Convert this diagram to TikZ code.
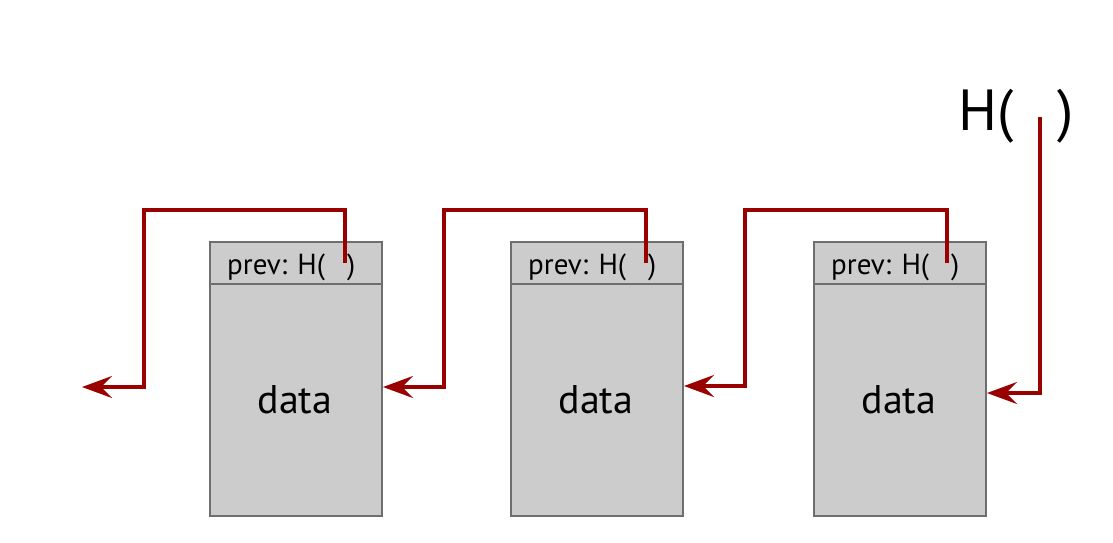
\documentclass[tikz,border=0pt]{standalone}
\usepackage{fontspec}
\setmainfont{PT Sans}
\usetikzlibrary{arrows.meta}
\definecolor{linkred}{HTML}{990000}
\definecolor{boxfill}{HTML}{CCCCCC}
\definecolor{boxedge}{HTML}{6E6E6E}
\tikzset{
  blockbody/.style={draw=boxedge, fill=boxfill, line width=2pt, minimum width=172pt, minimum height=232pt, inner sep=0pt, anchor=north west},
  blockhead/.style={draw=boxedge, fill=boxfill, line width=2pt, minimum width=172pt, minimum height=42pt, inner sep=0pt, anchor=north west},
  link/.style={draw=linkred, line width=3.5pt, -{Stealth[length=30pt, width=22pt, inset=11pt]}},
  headtext/.style={font=\fontsize{29}{32}\selectfont, inner sep=0pt},
  datatext/.style={font=\fontsize{40}{44}\selectfont, inner sep=0pt},
  bigtext/.style={font=\fontsize{58}{62}\selectfont, inner sep=0pt, anchor=base west}
}
\begin{document}
\begin{tikzpicture}[x=1pt,y=-1pt]
\useasboundingbox (0,0) rectangle (1113,542);
% blocks
\foreach \i/\x in {1/209,2/510,3/813}{
  \node[blockbody] (body\i) at (\x,283) {};
  \node[blockhead] (head\i) at (\x,241) {};
  \node[headtext, anchor=base west] (ht\i) at (\x+18,274) {prev: H(\hspace{22pt})};
  \node[datatext, anchor=base] (dt\i) at (\x+86,413) {data};
}
\node[bigtext] (htop) at (958,130) {H(\hspace{44pt})};
% link coordinates
\coordinate (s1) at (345,263);
\coordinate (s2) at (646,263);
\coordinate (s3) at (947,263);
\coordinate (s0) at (1040,117);
\coordinate (e1) at (82,387);
% links
\draw[link] (s1) -- (345,210) -- (144,210) -- (144,387) -- (e1);
\draw[link] (s2) -- (646,210) -- (444,210) -- (444,387) -- (body1.east |- 0,387);
\draw[link] (s3) -- (947,210) -- (745,210) -- (745,386) -- (body2.east |- 0,386);
\draw[link] (s0) -- (1040,393) -- (body3.east |- 0,393);
\end{tikzpicture}
\end{document}
